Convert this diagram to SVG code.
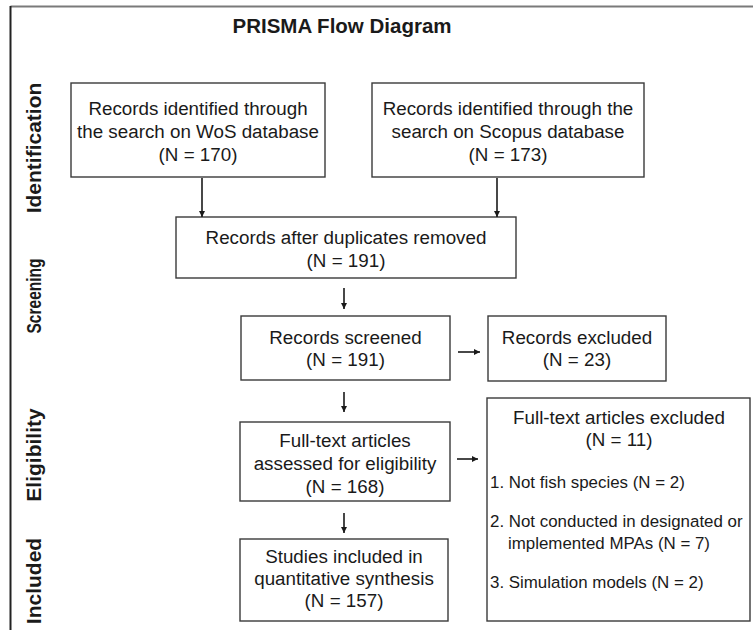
<svg xmlns="http://www.w3.org/2000/svg" width="753" height="630" viewBox="0 0 753 630">
<defs>
<marker id="ah" viewBox="0 0 10 10" refX="10" refY="5" markerWidth="6" markerHeight="6" markerUnits="userSpaceOnUse" orient="auto">
<path d="M0,0 L10,5 L0,10 Z" fill="#1a1a1a"/>
</marker>
<style>
.box{fill:#fff;stroke:#3a3a3a;stroke-width:1.4}
.t{font-family:"Liberation Sans",Arial,sans-serif;font-size:18.8px;fill:#1a1a1a;text-anchor:middle}
.l{font-family:"Liberation Sans",Arial,sans-serif;font-size:16.9px;fill:#1a1a1a}
.side{font-family:"Liberation Sans",Arial,sans-serif;font-size:21px;font-weight:bold;fill:#1a1a1a;text-anchor:middle}
.title{font-family:"Liberation Sans",Arial,sans-serif;font-size:20.5px;font-weight:bold;fill:#1a1a1a;text-anchor:middle}
.arr{stroke:#1a1a1a;stroke-width:1.6;fill:none;marker-end:url(#ah)}
</style>
</defs>
<rect width="753" height="630" fill="#fff"/>
<g id="frame">
<line x1="10.5" y1="6.5" x2="753" y2="6.5" stroke="#7a7a7a" stroke-width="2"/>
<line x1="10.5" y1="6" x2="10.5" y2="630" stroke="#222" stroke-width="2"/>
</g>
<text class="title" x="342" y="33">PRISMA Flow Diagram</text>
<g id="phases">
<text class="side" transform="translate(41,148) rotate(-90)">Identification</text>
<text class="side" transform="translate(41,296) rotate(-90) scale(0.74,1)">Screening</text>
<text class="side" transform="translate(41,455) rotate(-90)">Eligibility</text>
<text class="side" transform="translate(41,581) rotate(-90)">Included</text>
</g>
<g id="wos">
<rect class="box" x="71" y="83" width="254" height="94"/>
<text class="t" x="198" y="115">Records identified through</text>
<text class="t" x="198" y="138">the search on WoS database</text>
<text class="t" x="198" y="161">(N = 170)</text>
</g>
<g id="scopus">
<rect class="box" x="372" y="83" width="272" height="94"/>
<text class="t" x="508" y="115">Records identified through the</text>
<text class="t" x="508" y="138">search on Scopus database</text>
<text class="t" x="508" y="161">(N = 173)</text>
</g>
<g id="dedup">
<rect class="box" x="176" y="217" width="340" height="61"/>
<text class="t" x="346" y="244">Records after duplicates removed</text>
<text class="t" x="346" y="267">(N = 191)</text>
</g>
<g id="screened">
<rect class="box" x="241" y="316" width="209" height="64"/>
<text class="t" x="345.5" y="344">Records screened</text>
<text class="t" x="345.5" y="366">(N = 191)</text>
</g>
<g id="excluded">
<rect class="box" x="488" y="316" width="178" height="65"/>
<text class="t" x="577" y="344">Records excluded</text>
<text class="t" x="577" y="366">(N = 23)</text>
</g>
<g id="fulltext">
<rect class="box" x="240" y="422" width="210" height="79"/>
<text class="t" x="345" y="447">Full-text articles</text>
<text class="t" x="345" y="470">assessed for eligibility</text>
<text class="t" x="345" y="493">(N = 168)</text>
</g>
<g id="included">
<rect class="box" x="240" y="539" width="208" height="82"/>
<text class="t" x="344" y="563">Studies included in</text>
<text class="t" x="344" y="585">quantitative synthesis</text>
<text class="t" x="344" y="607">(N = 157)</text>
</g>
<g id="ftexcluded">
<rect class="box" x="487" y="398" width="263" height="223"/>
<text class="t" x="619" y="424">Full-text articles excluded</text>
<text class="t" x="619" y="446">(N = 11)</text>
<text class="l" x="490" y="488">1. Not fish species (N = 2)</text>
<text class="l" x="490" y="527">2. Not conducted in designated or</text>
<text class="l" x="508" y="549">implemented MPAs (N = 7)</text>
<text class="l" x="490" y="588">3. Simulation models (N = 2)</text>
</g>
<g id="connectors">
<line class="arr" x1="202" y1="178" x2="202" y2="217"/>
<line class="arr" x1="497" y1="178" x2="497" y2="217"/>
<line class="arr" x1="344" y1="288" x2="344" y2="309"/>
<line class="arr" x1="344" y1="392" x2="344" y2="412"/>
<line class="arr" x1="344" y1="513" x2="344" y2="533"/>
<line class="arr" x1="458" y1="352" x2="480" y2="352"/>
<line class="arr" x1="457" y1="459" x2="478" y2="459"/>
</g>
</svg>
